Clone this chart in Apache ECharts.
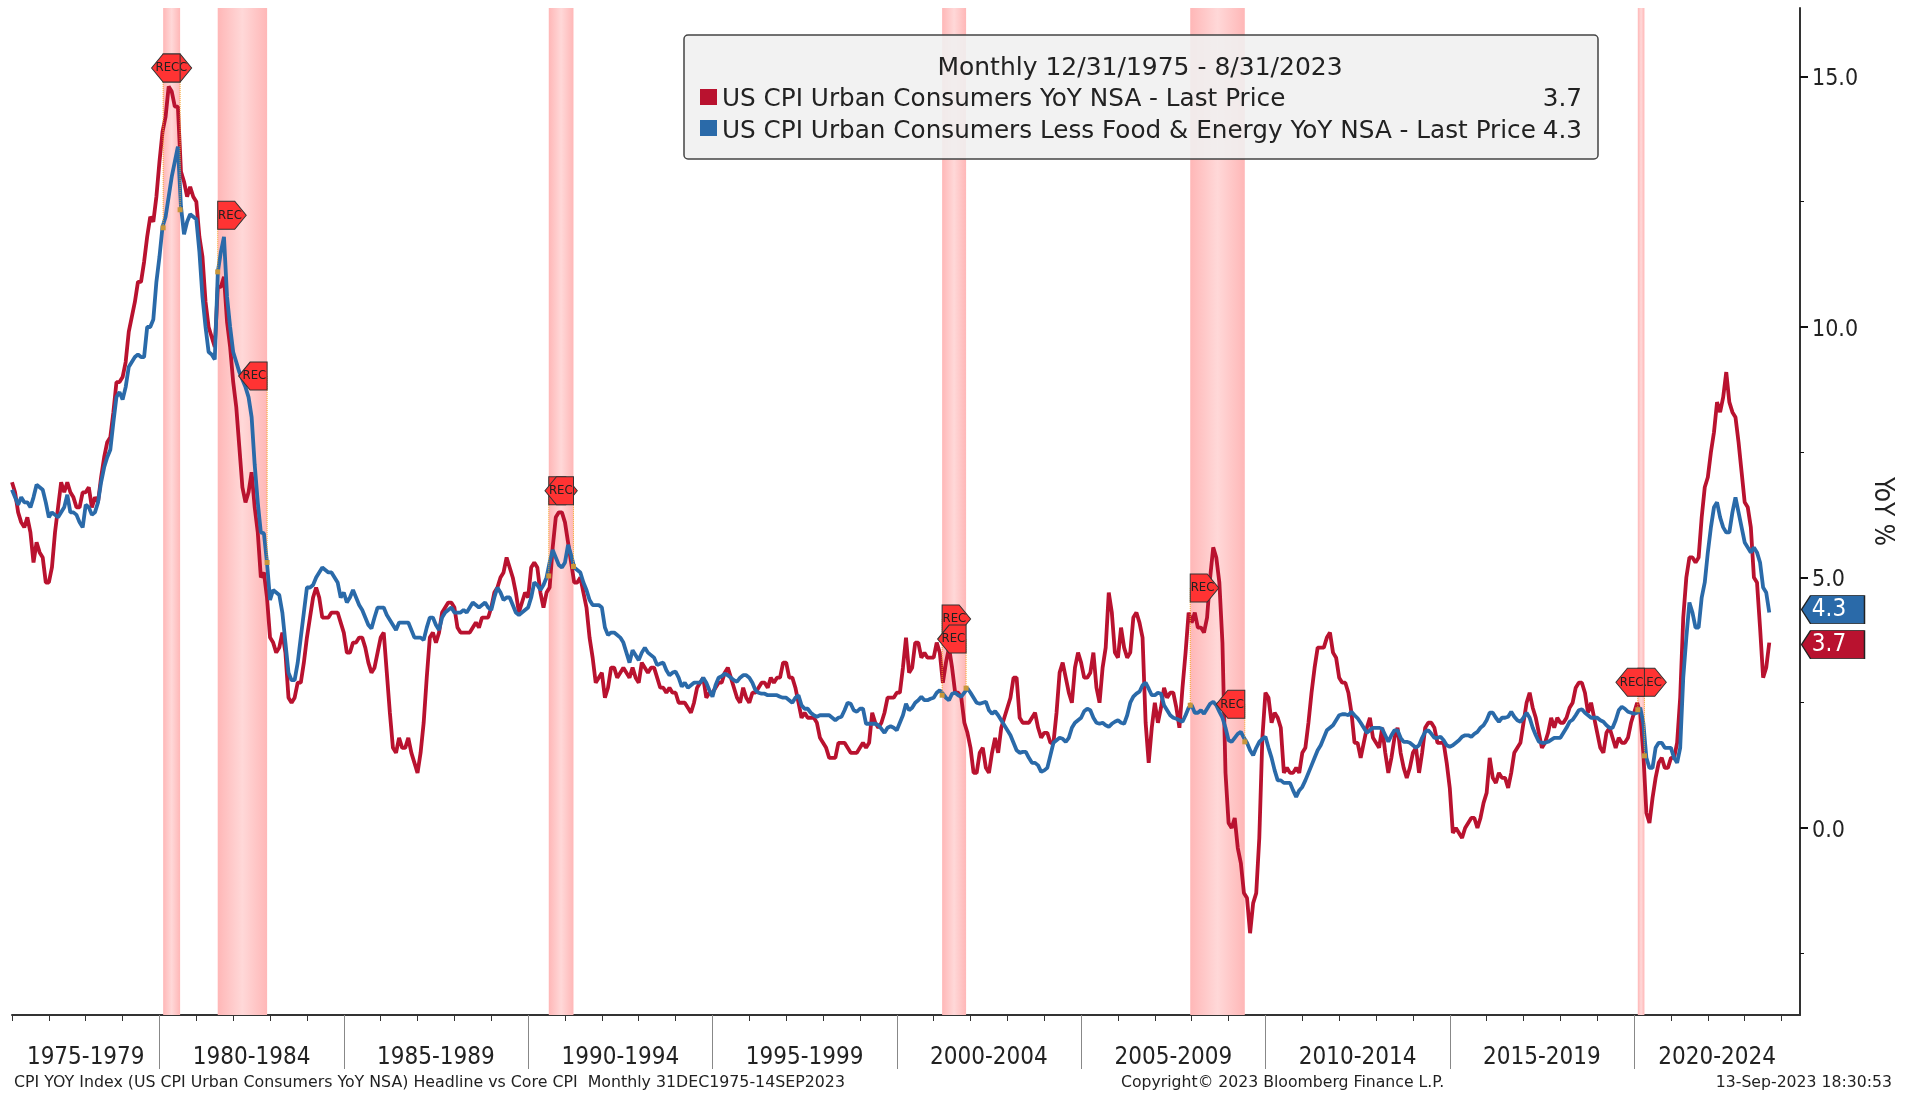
<!DOCTYPE html>
<html>
<head>
<meta charset="utf-8">
<title>CPI YOY Index</title>
<style>
  html, body { margin: 0; padding: 0; background: #fff; }
  #chart { width: 1913px; height: 1093px; }
</style>
<script src="https://cdn.jsdelivr.net/npm/echarts@6/dist/echarts.min.js"></script>
</head>
<body>
<div id="chart"></div>
<script>
// monthly readings, first one is 12/31/1975, last one 8/31/2023
const headline = [
  6.9,
  6.7, 6.3, 6.1, 6.0, 6.2, 5.9, 5.3, 5.7, 5.5, 5.4, 4.9, 4.9,
  5.2, 5.9, 6.4, 6.9, 6.7, 6.9, 6.7, 6.6, 6.4, 6.4, 6.7, 6.7,
  6.8, 6.4, 6.6, 6.5, 7.0, 7.4, 7.7, 7.8, 8.3, 8.9, 8.9, 9.0,
  9.3, 9.9, 10.2, 10.5, 10.9, 10.9, 11.3, 11.8, 12.2, 12.1, 12.6, 13.3,
  13.9, 14.2, 14.8, 14.7, 14.4, 14.4, 13.1, 12.9, 12.6, 12.8, 12.6, 12.5,
  11.8, 11.4, 10.5, 10.0, 9.8, 9.6, 10.8, 10.8, 11.0, 10.1, 9.6, 8.9,
  8.4, 7.6, 6.8, 6.5, 6.7, 7.1, 6.4, 5.9, 5.0, 5.1, 4.6, 3.8,
  3.7, 3.5, 3.6, 3.9, 3.5, 2.6, 2.5, 2.6, 2.9, 2.9, 3.3, 3.8,
  4.2, 4.6, 4.8, 4.6, 4.2, 4.2, 4.2, 4.3, 4.3, 4.3, 4.1, 3.9,
  3.5, 3.5, 3.7, 3.7, 3.8, 3.8, 3.6, 3.3, 3.1, 3.2, 3.5, 3.8,
  3.9, 3.1, 2.3, 1.6, 1.5, 1.8, 1.6, 1.6, 1.8, 1.5, 1.3, 1.1,
  1.5, 2.1, 3.0, 3.8, 3.9, 3.7, 3.9, 4.3, 4.4, 4.5, 4.5, 4.4,
  4.0, 3.9, 3.9, 3.9, 3.9, 4.0, 4.1, 4.0, 4.2, 4.2, 4.2, 4.4,
  4.7, 4.8, 5.0, 5.1, 5.4, 5.2, 5.0, 4.7, 4.3, 4.5, 4.7, 4.6,
  5.2, 5.3, 5.2, 4.7, 4.4, 4.7, 4.8, 5.6, 6.2, 6.3, 6.3, 6.1,
  5.7, 5.3, 4.9, 4.9, 5.0, 4.7, 4.4, 3.8, 3.4, 2.9, 3.0, 3.1,
  2.6, 2.8, 3.2, 3.2, 3.0, 3.1, 3.2, 3.1, 3.0, 3.2, 3.0, 2.9,
  3.3, 3.2, 3.1, 3.2, 3.2, 3.0, 2.8, 2.8, 2.7, 2.8, 2.7, 2.7,
  2.5, 2.5, 2.5, 2.4, 2.3, 2.5, 2.8, 2.9, 3.0, 2.6, 2.7, 2.7,
  2.8, 2.9, 2.9, 3.1, 3.2, 3.0, 2.8, 2.6, 2.5, 2.8, 2.6, 2.5,
  2.7, 2.7, 2.8, 2.9, 2.9, 2.8, 3.0, 2.9, 3.0, 3.0, 3.3, 3.3,
  3.0, 3.0, 2.8, 2.5, 2.2, 2.3, 2.2, 2.2, 2.2, 2.1, 1.8, 1.7,
  1.6, 1.4, 1.4, 1.4, 1.7, 1.7, 1.7, 1.6, 1.5, 1.5, 1.5, 1.6,
  1.7, 1.6, 1.7, 2.3, 2.1, 2.0, 2.1, 2.3, 2.6, 2.6, 2.6, 2.7,
  2.7, 3.2, 3.8, 3.1, 3.2, 3.7, 3.7, 3.4, 3.5, 3.4, 3.4, 3.4,
  3.7, 3.5, 2.9, 3.3, 3.6, 3.2, 2.7, 2.7, 2.6, 2.1, 1.9, 1.6,
  1.1, 1.1, 1.5, 1.6, 1.2, 1.1, 1.5, 1.8, 1.5, 2.0, 2.2, 2.4,
  2.6, 3.0, 3.0, 2.2, 2.1, 2.1, 2.1, 2.2, 2.3, 2.0, 1.8, 1.9,
  1.9, 1.7, 1.7, 2.3, 3.1, 3.3, 3.0, 2.7, 2.5, 3.2, 3.5, 3.3,
  3.0, 3.0, 3.1, 3.5, 2.8, 2.5, 3.2, 3.6, 4.7, 4.3, 3.5, 3.4,
  4.0, 3.6, 3.4, 3.5, 4.2, 4.3, 4.1, 3.8, 2.1, 1.3, 2.0, 2.5,
  2.1, 2.4, 2.8, 2.6, 2.7, 2.7, 2.4, 2.0, 2.8, 3.5, 4.3, 4.1,
  4.3, 4.0, 4.0, 3.9, 4.2, 5.0, 5.6, 5.4, 4.9, 3.7, 1.1, 0.1,
  0.0, 0.2, -0.4, -0.7, -1.3, -1.4, -2.1, -1.5, -1.3, -0.2, 1.8, 2.7,
  2.6, 2.1, 2.3, 2.2, 2.0, 1.1, 1.2, 1.1, 1.1, 1.2, 1.1, 1.5,
  1.6, 2.1, 2.7, 3.2, 3.6, 3.6, 3.6, 3.8, 3.9, 3.5, 3.4, 3.0,
  2.9, 2.9, 2.7, 2.3, 1.7, 1.7, 1.4, 1.7, 2.0, 2.2, 1.8, 1.7,
  1.6, 2.0, 1.5, 1.1, 1.4, 1.8, 2.0, 1.5, 1.2, 1.0, 1.2, 1.5,
  1.6, 1.1, 1.5, 2.0, 2.1, 2.1, 2.0, 1.7, 1.7, 1.7, 1.3, 0.8,
  -0.1, 0.0, -0.1, -0.2, 0.0, 0.1, 0.2, 0.2, 0.0, 0.2, 0.5, 0.7,
  1.4, 1.0, 0.9, 1.1, 1.0, 1.0, 0.8, 1.1, 1.5, 1.6, 1.7, 2.1,
  2.5, 2.7, 2.4, 2.2, 1.9, 1.6, 1.7, 1.9, 2.2, 2.0, 2.2, 2.1,
  2.1, 2.2, 2.4, 2.5, 2.8, 2.9, 2.9, 2.7, 2.3, 2.5, 2.2, 1.9,
  1.6, 1.5, 1.9, 2.0, 1.8, 1.6, 1.8, 1.7, 1.7, 1.8, 2.1, 2.3,
  2.5, 2.3, 1.5, 0.3, 0.1, 0.6, 1.0, 1.3, 1.4, 1.2, 1.2, 1.4,
  1.4, 1.7, 2.6, 4.2, 5.0, 5.4, 5.4, 5.3, 5.4, 6.2, 6.8, 7.0,
  7.5, 7.9, 8.5, 8.3, 8.6, 9.1, 8.5, 8.3, 8.2, 7.7, 7.1, 6.5,
  6.4, 6.0, 5.0, 4.9, 4.0, 3.0, 3.2, 3.7
]
const core = [
  6.75,
  6.6, 6.45, 6.6, 6.5, 6.5, 6.4, 6.6, 6.85, 6.8, 6.75, 6.5, 6.2,
  6.3, 6.25, 6.2, 6.3, 6.4, 6.65, 6.3, 6.3, 6.25, 6.1, 6.0, 6.45,
  6.4, 6.25, 6.3, 6.5, 6.9, 7.2, 7.4, 7.55, 8.1, 8.6, 8.7, 8.55,
  8.8, 9.2, 9.3, 9.4, 9.45, 9.4, 9.4, 10.0, 10.0, 10.15, 10.9, 11.4,
  12.0, 12.2, 12.6, 13.0, 13.3, 13.6, 12.4, 11.85, 12.1, 12.25, 12.2, 12.15,
  11.5, 10.6, 10.0, 9.5, 9.45, 9.35, 11.1, 11.5, 11.8, 10.6, 10.0, 9.5,
  9.3, 9.1, 8.95, 8.8, 8.6, 8.2, 7.25, 6.5, 5.9, 5.88, 5.3, 4.55,
  4.75, 4.7, 4.65, 4.3, 3.7, 3.1, 2.95, 2.95, 3.3, 3.8, 4.3, 4.8,
  4.8, 4.85, 5.0, 5.1, 5.2, 5.15, 5.1, 5.1, 5.0, 4.9, 4.6, 4.7,
  4.5, 4.6, 4.75, 4.6, 4.45, 4.35, 4.2, 4.05, 3.98, 4.2, 4.4, 4.4,
  4.4, 4.25, 4.15, 4.05, 3.95, 4.1, 4.1, 4.1, 4.1, 3.95, 3.8, 3.8,
  3.8, 3.75, 4.0, 4.2, 4.2, 4.05, 3.95, 4.2, 4.3, 4.35, 4.4, 4.3,
  4.3, 4.3, 4.35, 4.3, 4.4, 4.5, 4.45, 4.4, 4.45, 4.5, 4.4, 4.35,
  4.6, 4.8, 4.7, 4.55, 4.6, 4.6, 4.45, 4.3, 4.25, 4.3, 4.35, 4.4,
  4.6, 4.9, 4.85, 4.75, 4.85, 5.0, 5.3, 5.55, 5.4, 5.25, 5.2, 5.3,
  5.65, 5.45, 5.2, 5.15, 5.1, 4.9, 4.75, 4.55, 4.45, 4.45, 4.45, 4.4,
  4.0, 3.85, 3.9, 3.9, 3.85, 3.8, 3.7, 3.5, 3.3, 3.55, 3.45, 3.35,
  3.5, 3.6, 3.5, 3.45, 3.4, 3.25, 3.28, 3.3, 3.15, 3.05, 3.1, 3.12,
  3.0, 2.82, 2.9, 2.8, 2.85, 2.9, 2.9, 2.9, 3.0, 2.9, 2.75, 2.62,
  2.85, 3.0, 3.03, 3.08, 3.05, 3.0, 2.95, 2.92, 3.0, 3.05, 3.05, 3.0,
  2.9, 2.75, 2.7, 2.68, 2.68, 2.65, 2.65, 2.65, 2.65, 2.62, 2.6, 2.6,
  2.55, 2.5, 2.6, 2.65, 2.45, 2.38, 2.38, 2.3, 2.25, 2.22, 2.25, 2.25,
  2.25, 2.25, 2.2, 2.15, 2.2, 2.22, 2.35, 2.5, 2.48, 2.35, 2.32, 2.38,
  2.38, 2.08, 2.08, 2.08, 2.08, 2.05, 1.98, 1.9, 2.0, 2.03, 2.0, 1.95,
  2.1, 2.25, 2.48, 2.35, 2.4, 2.5, 2.55, 2.62, 2.55, 2.55, 2.58, 2.6,
  2.7, 2.75, 2.68, 2.6, 2.55, 2.68, 2.7, 2.65, 2.62, 2.7, 2.79, 2.7,
  2.6, 2.5, 2.48, 2.5, 2.52, 2.35, 2.28, 2.33, 2.25, 2.15, 2.05, 1.95,
  1.85, 1.7, 1.55, 1.5, 1.52, 1.52, 1.4, 1.3, 1.3, 1.25, 1.12, 1.15,
  1.2, 1.45, 1.7, 1.75, 1.8, 1.78, 1.72, 1.8, 2.0, 2.1, 2.15, 2.2,
  2.33, 2.38, 2.35, 2.2, 2.1, 2.08, 2.1, 2.05, 2.02, 2.08, 2.12, 2.15,
  2.1, 2.08, 2.25, 2.5, 2.62, 2.68, 2.72, 2.85, 2.9, 2.78, 2.65, 2.65,
  2.7, 2.68, 2.45, 2.35, 2.25, 2.2, 2.18, 2.15, 2.12, 2.25, 2.4, 2.45,
  2.3, 2.3, 2.35, 2.28, 2.38, 2.48, 2.52, 2.45, 2.32, 2.2, 2.0, 1.75,
  1.72, 1.8, 1.88, 1.92, 1.8, 1.7, 1.55, 1.45, 1.6, 1.72, 1.78, 1.82,
  1.6, 1.4, 1.15, 0.95, 0.95, 0.9, 0.9, 0.9, 0.75, 0.62, 0.75, 0.82,
  0.95, 1.1, 1.25, 1.4, 1.55, 1.65, 1.8, 1.95, 2.0, 2.05, 2.15, 2.25,
  2.27, 2.27, 2.25, 2.32, 2.25, 2.19, 2.1, 2.0, 1.9, 1.95, 2.0, 2.0,
  2.0, 1.98, 1.85, 1.72, 1.85, 1.95, 1.95, 1.8, 1.72, 1.72, 1.7, 1.65,
  1.6, 1.65, 1.8, 1.92, 1.95, 1.88, 1.8, 1.8, 1.82, 1.75, 1.65, 1.62,
  1.65, 1.7, 1.75, 1.82, 1.85, 1.85, 1.82, 1.88, 1.92, 2.0, 2.05, 2.15,
  2.3, 2.3, 2.2, 2.12, 2.2, 2.2, 2.22, 2.32, 2.22, 2.15, 2.12, 2.2,
  2.3, 2.2, 2.0, 1.85, 1.72, 1.7, 1.7, 1.72, 1.76, 1.8, 1.8, 1.8,
  1.9, 2.0, 2.12, 2.16, 2.25, 2.35, 2.37, 2.3, 2.25, 2.2, 2.2, 2.2,
  2.15, 2.12, 2.05, 2.0, 2.0, 2.15, 2.35, 2.42, 2.38, 2.32, 2.3, 2.28,
  2.3, 2.4, 2.1, 1.4, 1.2, 1.2, 1.6, 1.7, 1.7, 1.6, 1.6, 1.6,
  1.4, 1.3, 1.6, 3.0, 3.8, 4.5, 4.3, 4.0, 4.0, 4.6, 4.9, 5.5,
  6.0, 6.4, 6.5, 6.2, 6.0, 5.9, 5.9, 6.3, 6.6, 6.3, 6.0, 5.7,
  5.6, 5.5, 5.6, 5.5, 5.3, 4.8, 4.7, 4.3
]

// recessions, in years on the x axis, and where the REC flags and their dots sit
const recStart = [1980.1, 1981.58, 1990.56, 2001.23, 2007.96, 2020.1]
const recEnd = [1980.56, 1982.92, 1991.23, 2001.88, 2009.44, 2020.28]
const recStartFlag = [15.17, 12.23, 6.73, 4.17, 4.79, 2.91]
const recEndFlag = [15.17, 9.02, 6.73, 3.77, 2.47, 2.91]
const recStartDot = [11.98, 11.1, 5.03, 2.65, 2.45, 2.36]
const recEndDot = [12.34, 5.3, 5.22, 2.79, 1.72, 1.44]

const periodLabels = ['1975-1979', '1980-1984', '1985-1989', '1990-1994', '1995-1999', '2000-2004', '2005-2009', '2010-2014', '2015-2019', '2020-2024']
const periodCenters = [1978, 1982.5, 1987.5, 1992.5, 1997.5, 2002.5, 2007.5, 2012.5, 2017.5, 2022.25]
const periodBreaks = [1980, 1985, 1990, 1995, 2000, 2005, 2010, 2015, 2020]
const yearTicks = [1976, 1977, 1978, 1979, 1981, 1982, 1983, 1984, 1986, 1987, 1988, 1989, 1991, 1992, 1993, 1994, 1996, 1997, 1998, 1999, 2001, 2002, 2003, 2004, 2006, 2007, 2008, 2009, 2011, 2012, 2013, 2014, 2016, 2017, 2018, 2019, 2021, 2022, 2023, 2024]
const yMajor = [0, 5, 10, 15]
const yMinor = [-2.5, 2.5, 7.5, 12.5]

const RED = '#b9122f'
const BLUE = '#2a6aa9'
const FONT = 'DejaVu Sans'
const AXIS_FONT = 'DejaVu Sans Condensed'
const TEXT = '#222'
const xMin = 1976
const xMax = 2024.5
const yMin = -3.733
const yMax = 16.367

const toSeries = values => values.map((v, i) => [xMin + i / 12, v])

const bandColor = new echarts.graphic.LinearGradient(0, 0, 1, 0, [
  { offset: 0, color: '#ffb7b7' },
  { offset: 0.5, color: '#ffd8d8' },
  { offset: 1, color: '#ffb7b7' }
])

const rightFlag = 'path://M0 0H17L28.5 14L17 28H0Z'
const leftFlag = 'path://M28.5 0H11.5L0 14L11.5 28H28.5Z'
const tagPath = 'path://M63 0H9L0 14L9 28H63Z'

// the end flag is drawn over the start flag, its label too
const flagSeries = (xs, ys, symbol, dx, labelDx, z) => ({
  type: 'scatter',
  clip: false,
  z: z,
  symbol: symbol,
  symbolSize: [28.5, 28],
  symbolOffset: [dx, 0],
  itemStyle: { color: '#ff3333', borderColor: '#333', borderWidth: 1, opacity: 1 },
  label: { show: true, position: 'inside', offset: [labelDx, 0], formatter: 'REC', color: '#222', fontSize: 13, fontFamily: AXIS_FONT },
  data: xs.map((x, i) => [x, ys[i]])
})

const tagSeries = (values, color, dy) => ({
  type: 'scatter',
  clip: false,
  z: 8,
  symbol: tagPath,
  symbolSize: [63, 28],
  symbolOffset: [33, dy],
  itemStyle: { color: color, borderColor: '#222', borderWidth: 1, opacity: 1 },
  label: {
    show: true,
    position: 'inside',
    offset: [-4, 0],
    formatter: p => p.value[1].toFixed(1),
    color: '#fff',
    fontSize: 24,
    fontFamily: AXIS_FONT
  },
  data: [[xMax, values[values.length - 1]]]
})

const leaders = []
recStart.forEach((x, i) => {
  leaders.push([x, recStartFlag[i]], [x, recStartDot[i]], [x, null])
  leaders.push([recEnd[i], recEndFlag[i]], [recEnd[i], recEndDot[i]], [recEnd[i], null])
})
const dots = recStart.map((x, i) => [x, recStartDot[i]]).concat(recEnd.map((x, i) => [x, recEndDot[i]]))

const legendText = (text, x, y, align, size) => ({
  type: 'text',
  z: 20,
  style: { text: text, x: x, y: y, align: align, verticalAlign: 'middle', fill: TEXT, font: size + 'px "' + FONT + '"' }
})

const option = {
  animation: false,
  backgroundColor: '#fff',
  grid: { left: 12, right: 113, top: 8, bottom: 78 },
  xAxis: [
    {
      type: 'value',
      position: 'bottom',
      min: xMin,
      max: xMax,
      splitLine: { show: false },
      axisLine: { show: true, onZero: false, lineStyle: { color: '#333', width: 2 } },
      axisTick: { show: true, customValues: yearTicks, length: 6, lineStyle: { color: '#333', width: 1 } },
      axisLabel: { show: false }
    },
    {
      type: 'value',
      position: 'bottom',
      min: xMin,
      max: xMax,
      splitLine: { show: false },
      axisLine: { show: false, onZero: false },
      axisTick: { show: true, customValues: periodBreaks, length: 54, lineStyle: { color: '#888', width: 1 } },
      axisLabel: {
        show: true,
        customValues: periodCenters,
        formatter: v => periodLabels[periodCenters.indexOf(v)],
        margin: 31,
        color: TEXT,
        fontSize: 24,
        fontFamily: AXIS_FONT
      }
    }
  ],
  yAxis: [
    {
      type: 'value',
      position: 'right',
      min: yMin,
      max: yMax,
      splitLine: { show: false },
      axisLine: { show: true, onZero: false, lineStyle: { color: '#333', width: 2 } },
      axisTick: { show: true, customValues: yMajor, length: 8, lineStyle: { color: '#111', width: 2 } },
      // top align with a short line box puts the digits a little under the tick
      axisLabel: {
        show: true,
        customValues: yMajor,
        formatter: v => v.toFixed(1),
        margin: 12,
        verticalAlign: 'top',
        lineHeight: 6,
        color: TEXT,
        fontSize: 23,
        fontFamily: AXIS_FONT
      },
      name: 'YoY %',
      nameLocation: 'middle',
      nameRotate: -90,
      nameGap: 66,
      nameTextStyle: { color: TEXT, fontSize: 26, fontFamily: AXIS_FONT }
    },
    {
      type: 'value',
      position: 'right',
      min: yMin,
      max: yMax,
      splitLine: { show: false },
      axisLine: { show: false, onZero: false },
      axisTick: { show: true, customValues: yMinor, length: 4, lineStyle: { color: '#111', width: 1 } },
      axisLabel: { show: false }
    }
  ],
  series: [
    {
      name: 'US CPI Urban Consumers YoY NSA - Last Price',
      type: 'line',
      z: 3,
      showSymbol: false,
      symbol: 'none',
      lineStyle: { color: RED, width: 3.8 },
      data: toSeries(headline),
      markArea: {
        silent: true,
        z: 1,
        itemStyle: { color: bandColor },
        data: recStart.map((x, i) => [{ xAxis: x }, { xAxis: recEnd[i] }])
      }
    },
    {
      name: 'US CPI Urban Consumers Less Food & Energy YoY NSA - Last Price',
      type: 'line',
      z: 4,
      showSymbol: false,
      symbol: 'none',
      lineStyle: { color: BLUE, width: 3.8 },
      data: toSeries(core)
    },
    {
      type: 'line',
      z: 5,
      symbol: 'none',
      connectNulls: false,
      lineStyle: { color: '#f5a623', width: 1, type: 'dotted' },
      data: leaders
    },
    {
      type: 'scatter',
      z: 5,
      symbol: 'rect',
      symbolSize: 5,
      itemStyle: { color: '#c9973b', opacity: 1 },
      data: dots
    },
    flagSeries(recStart, recStartFlag, rightFlag, 14.25, -2, 6),
    flagSeries(recEnd, recEndFlag, leftFlag, -14.25, 1.5, 7),
    tagSeries(core, BLUE, -3),
    tagSeries(headline, RED, 2)
  ],
  graphic: [
    {
      type: 'rect',
      z: 19,
      shape: { x: 684, y: 35, width: 914, height: 124, r: 4 },
      style: { fill: 'rgba(240,240,240,0.88)', stroke: '#444', lineWidth: 1.5 }
    },
    legendText('Monthly 12/31/1975 - 8/31/2023', 1140, 68, 'center', 25),
    { type: 'rect', z: 20, shape: { x: 700, y: 89, width: 17, height: 16 }, style: { fill: RED } },
    { type: 'rect', z: 20, shape: { x: 700, y: 120, width: 17, height: 16 }, style: { fill: BLUE } },
    legendText('US CPI Urban Consumers YoY NSA - Last Price', 722, 100, 'left', 24.7),
    legendText('US CPI Urban Consumers Less Food & Energy YoY NSA - Last Price', 722, 132, 'left', 24.7),
    legendText('3.7', 1582, 100, 'right', 24.7),
    legendText('4.3', 1582, 132, 'right', 24.7),
    legendText('CPI YOY Index (US CPI Urban Consumers YoY NSA) Headline vs Core CPI  Monthly 31DEC1975-14SEP2023', 14, 1083, 'left', 15.8),
    legendText('Copyright\u00a9 2023 Bloomberg Finance L.P.', 1121, 1083, 'left', 15.7),
    legendText('13-Sep-2023 18:30:53', 1892, 1083, 'right', 15.7)
  ]
}

const chart = echarts.init(document.getElementById('chart'))
chart.setOption(option)
</script>
</body>
</html>
